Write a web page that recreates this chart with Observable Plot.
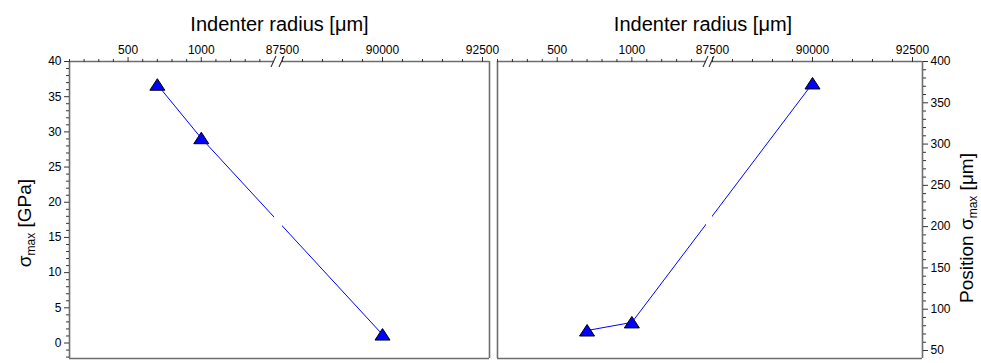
<!DOCTYPE html>
<html><head><meta charset="utf-8">
<script src="https://cdn.jsdelivr.net/npm/d3@7"></script>
<script src="https://cdn.jsdelivr.net/npm/@observablehq/plot@0.6"></script>
<style>
body{margin:0;background:#fff;}
#wrap{position:relative;width:981px;height:363px;display:flex;background:#fff;}
svg{font-family:"Liberation Sans",Arial,sans-serif;overflow:visible;}
</style></head><body><div id="wrap"></div>
<script>
// ---- data ----
const radius = [700, 1000, 90000];
const sigmaMax = [36.7, 29.1, 1.2];
const positionSigmaMax = [74.2, 84, 373.4];
// ---- axis ticks ----
const xMajorTicks = [500, 1000, 87500, 90000, 92500];
const xMinorLow = [100, 200, 300, 400, 600, 700, 800, 900, 1100, 1200, 1300, 1400];
const xMinorHigh = [88000, 88500, 89000, 89500, 90500, 91000, 91500, 92000];
const yLeftTicks = [0, 5, 10, 15, 20, 25, 30, 35, 40];
const yRightTicks = [50, 100, 150, 200, 250, 300, 350, 400];
const xTitle = "Indenter radius [μm]";
const breakLow = 1500, breakHigh = 87500;

const AX = "#6e6e6e";
const TK = "#333";
const tri = {draw(ctx) { ctx.moveTo(0, -6); ctx.lineTo(7.5, 5.5); ctx.lineTo(-7.5, 5.5); ctx.closePath(); }};

// broken axis: the two segments of the radius axis are laid end to end
function panel({width, xEnd, segUnits, yDomain, yMajor, yMinor, yAnchor, values, ml, mr, titleDx}) {
  const brk = d3.scaleLinear().domain([100, breakLow, breakHigh, xEnd]).range(segUnits);
  const rows = radius.map((r, i) => ({u: brk(r), v: values[i]}));
  const label = new Map(xMajorTicks.map(t => [brk(t), String(t)]));
  const none = () => "";
  const u0 = brk(100), u1 = brk(xEnd);
  const svg = Plot.plot({
    width, height: 363, marginTop: 61, marginBottom: 5, marginLeft: ml, marginRight: mr,
    x: {domain: [u0, u1]},
    y: {domain: yDomain},
    style: {fontFamily: "'Liberation Sans', Arial, sans-serif", fontSize: "12px", color: "#000", background: "transparent", overflow: "visible"},
    marks: [
      Plot.line(rows, {x: "u", y: "v", stroke: "#0000ff", strokeWidth: 1}),
      Plot.rect([0], {x1: brk(breakLow), x2: brk(breakHigh), fill: "white"}),
      Plot.ruleX([u0, u1], {stroke: AX, strokeWidth: 1.6}),
      Plot.ruleY([yDomain[0]], {stroke: AX, strokeWidth: 1.6}),
      Plot.ruleY([yDomain[1]], {x1: u0, x2: brk(breakLow), stroke: AX, strokeWidth: 1.6}),
      Plot.ruleY([yDomain[1]], {x1: brk(breakHigh), x2: u1, stroke: AX, strokeWidth: 1.6}),
      Plot.axisX({anchor: "top", ticks: xMajorTicks.map(brk), tickSize: 5, tickPadding: 3, tickFormat: u => label.get(u), label: null, stroke: TK}),
      Plot.axisX({anchor: "top", ticks: xMinorLow.concat(xMinorHigh).map(brk), tickSize: 3, tickFormat: none, label: null, stroke: TK}),
      Plot.axisY({anchor: yAnchor, ticks: yMajor, tickSize: 5, tickPadding: 3, tickFormat: d => String(d), label: null, stroke: TK}),
      Plot.axisY({anchor: yAnchor, ticks: yMinor, tickSize: 3, tickFormat: none, label: null, stroke: TK}),
      Plot.dot(rows, {x: "u", y: "v", symbol: tri, fill: "#0000ff", stroke: "#000", strokeWidth: 1}),
      Plot.text([xTitle], {frameAnchor: "top", dy: -45, dx: titleDx, fontSize: 20, fill: "#000"})
    ]
  });
  // break marks on the top axis
  const x = svg.scale("x"), y = svg.scale("y");
  const yt = y.apply(yDomain[1]);
  const g = d3.select(svg).append("g").attr("stroke", TK).attr("stroke-width", 1.1);
  for (const b of [breakLow, breakHigh]) {
    const cx = x.apply(brk(b)) - 0.5;
    g.append("line").attr("x1", cx - 2.5).attr("y1", yt + 6).attr("x2", cx + 2.5).attr("y2", yt - 5);
  }
  return svg;
}

function addYLabel(svg, x, y, parts) {
  const t = d3.select(svg).append("text")
    .attr("transform", `translate(${x},${y}) rotate(-90)`)
    .attr("text-anchor", "middle").attr("font-size", 19).attr("fill", "#000");
  t.append("tspan").text(parts[0]);
  t.append("tspan").attr("font-size", 12).attr("dy", 4).text("max");
  t.append("tspan").attr("dy", -4).text(parts[1]);
}

const minorLeft = d3.range(-2, 41).filter(v => v % 5 !== 0);
const minorRight = d3.range(50, 401, 10).filter(v => v % 50 !== 0);

const left = panel({
  width: 493, xEnd: 92675, segUnits: [0, 205, 213, 420],
  yDomain: [-2.2, 40], yMajor: yLeftTicks, yMinor: minorLeft, yAnchor: "left",
  values: sigmaMax, ml: 69, mr: 4, titleDx: 0
});
const right = panel({
  width: 488, xEnd: 92750, segUnits: [0, 209, 215, 425],
  yDomain: [40.3, 400], yMajor: yRightTicks, yMinor: minorRight, yAnchor: "right",
  values: positionSigmaMax, ml: 4, mr: 59, titleDx: -7
});
addYLabel(left, 31, 223, ["σ", " [GPa]"]);
addYLabel(right, 480, 228, ["Position σ", " [μm]"]);
document.getElementById("wrap").append(left, right);
</script></body></html>
